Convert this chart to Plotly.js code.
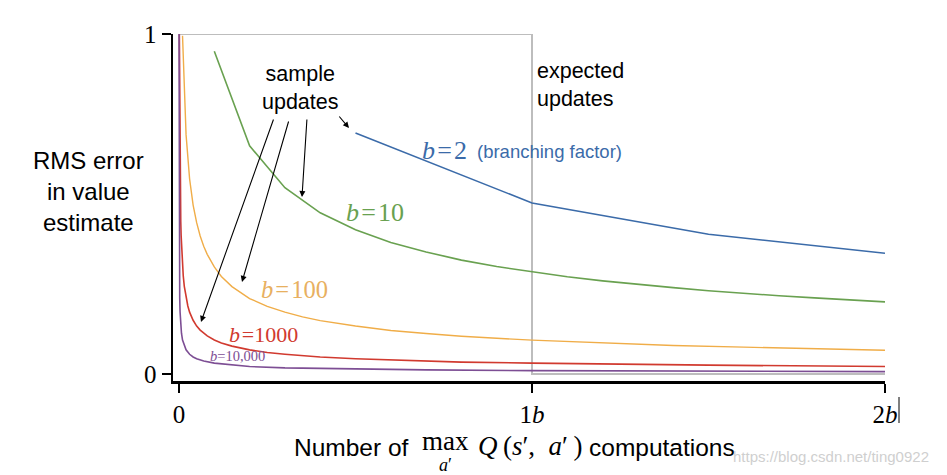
<!DOCTYPE html>
<html>
<head>
<meta charset="utf-8">
<script src="https://cdn.plot.ly/plotly-3.0.1.min.js"></script>
<style>html,body{margin:0;padding:0;background:#fff;}#chart{width:947px;height:475px;}</style>
</head>
<body>
<div id="chart"></div>
<script>
// ---- data (x in multiples of b, y = RMS error) ----
const expectedX = [0, 1, 1, 2];
const expectedErr = [1, 1, 0, 0];

const b2X = [0.5, 1.0, 1.5, 2.0];
const b2Err = [0.709, 0.503, 0.411, 0.355];

const b10X = [0.1, 0.2, 0.3, 0.4, 0.5, 0.6, 0.7, 0.8, 0.9, 1.0, 1.1, 1.2, 1.3, 1.4, 1.5, 1.6, 1.7, 1.8, 1.9, 2.0];
const b10Err = [0.949, 0.671, 0.548, 0.474, 0.424, 0.387, 0.359, 0.335, 0.316, 0.300, 0.286, 0.274, 0.263, 0.254, 0.245, 0.237, 0.230, 0.224, 0.218, 0.212];

const b100X = [0.01, 0.02, 0.03, 0.04, 0.05, 0.06, 0.07, 0.08, 0.10, 0.12, 0.15, 0.18, 0.20, 0.25, 0.30, 0.35, 0.40, 0.50, 0.60, 0.70, 0.80, 1.00, 1.20, 1.40, 1.60, 1.80, 2.00];
const b100Err = [0.995, 0.704, 0.574, 0.497, 0.445, 0.406, 0.376, 0.352, 0.315, 0.287, 0.257, 0.235, 0.222, 0.199, 0.182, 0.168, 0.157, 0.141, 0.128, 0.119, 0.111, 0.0995, 0.091, 0.084, 0.079, 0.074, 0.070];

const b1000X = [0.001, 0.002, 0.003, 0.004, 0.005, 0.006, 0.008, 0.010, 0.012, 0.015, 0.02, 0.025, 0.03, 0.04, 0.05, 0.06, 0.08, 0.1, 0.12, 0.15, 0.2, 0.25, 0.3, 0.4, 0.5, 0.6, 0.8, 1.0, 1.2, 1.5, 2.0];
const b1000Err = [0.9995, 0.707, 0.577, 0.500, 0.447, 0.408, 0.353, 0.316, 0.289, 0.258, 0.223, 0.200, 0.182, 0.158, 0.141, 0.129, 0.112, 0.100, 0.091, 0.082, 0.071, 0.063, 0.058, 0.050, 0.045, 0.041, 0.035, 0.032, 0.029, 0.026, 0.022];

const b10000X = [0.0001, 0.0002, 0.0003, 0.0005, 0.0008, 0.001, 0.0015, 0.002, 0.003, 0.004, 0.005, 0.007, 0.01, 0.015, 0.02, 0.03, 0.04, 0.05, 0.07, 0.1, 0.15, 0.2, 0.3, 0.4, 0.5, 0.7, 1.0, 1.5, 2.0];
const b10000Err = [1.000, 0.707, 0.577, 0.447, 0.354, 0.316, 0.258, 0.224, 0.183, 0.158, 0.141, 0.120, 0.100, 0.082, 0.071, 0.058, 0.050, 0.045, 0.038, 0.032, 0.026, 0.022, 0.018, 0.016, 0.014, 0.012, 0.010, 0.008, 0.007];

const xTickVals = [0, 1, 2];
const xTickText = ['0', '1<i>b</i>', '2<i>b</i>'];
const yTickVals = [0, 1];
const yTickText = ['0', '1'];

// ---- layout helpers (pixel -> paper) ----
const W = 947, H = 475, ML = 173, MR = 62, MT = 34, MB = 94;
const PW = W - ML - MR, PH = H - MT - MB;
const px = x => (x - ML) / PW;
const py = y => (H - MB - y) / PH;

const SANS = 'Liberation Sans, Arial, sans-serif';
const SERIF = 'Liberation Serif, Times New Roman, serif';

const C = {blue: '#3b6ba9', green: '#69a150', orange: '#f0ad48', red: '#d13a2f', purple: '#7d4e94', gray: '#bdbdbd'};

function line(x, y, color, w) {
  return {x: x, y: y, type: 'scatter', mode: 'lines', line: {color: color, width: w}, hoverinfo: 'skip', cliponaxis: false};
}

const traces = [
  line(expectedX, expectedErr, C.gray, 2),
  line(b2X, b2Err, C.blue, 1.6),
  line(b10X, b10Err, C.green, 1.6),
  line(b100X, b100Err, C.orange, 1.4),
  line(b1000X, b1000Err, C.red, 1.6),
  line(b10000X, b10000Err, C.purple, 1.6)
];

function txt(x, y, text, font, anchor, align) {
  return {xref: 'paper', yref: 'paper', x: px(x), y: py(y), text: text, showarrow: false,
    xanchor: anchor || 'left', yanchor: 'middle', align: align || 'left', font: font};
}
function arrow(hx, hy, tx, ty) {
  return {xref: 'paper', yref: 'paper', x: px(hx), y: py(hy), ax: tx - hx, ay: ty - hy,
    text: '', showarrow: true, arrowhead: 2, arrowsize: 1.1, arrowwidth: 1.1, arrowcolor: '#000', standoff: 0};
}

const annotations = [
  txt(88, 191, 'RMS error<br>in value<br>estimate', {family: SANS, size: 24, color: '#000'}, 'center', 'center'),
  txt(300, 88, 'sample<br>updates', {family: SANS, size: 21.5, color: '#000'}, 'center', 'center'),
  txt(535, 85, 'expected<br>updates', {family: SANS, size: 21.5, color: '#000'}, 'left', 'left'),
  txt(420, 150, '<i>b</i>\u200A=\u200A2', {family: SERIF, size: 26, color: C.blue}),
  txt(475, 151, '(branching factor)', {family: SANS, size: 18.5, color: C.blue}),
  txt(344, 213, '<i>b</i>\u200A=\u200A10', {family: SERIF, size: 26, color: C.green}),
  txt(259, 289, '<i>b</i>\u200A=\u200A100', {family: SERIF, size: 24.5, color: '#e8b060'}),
  txt(227, 334, '<i>b</i>\u200A=1000', {family: SERIF, size: 22, color: C.red}),
  txt(208, 356, '<i>b</i>=10,000', {family: SERIF, size: 14.5, color: C.purple}),
  // x-axis title pieces
  txt(292, 447, 'Number of', {family: SANS, size: 24.5, color: '#000'}),
  txt(420, 441, 'max', {family: SERIF, size: 27, color: '#000'}),
  txt(445, 465, '<i>a</i>\u2032', {family: SERIF, size: 18, color: '#000'}, 'center', 'center'),
  txt(476, 446, '<i>Q</i>\u2009(<i>s</i>\u2032,\u2002<i>a</i>\u2032\u2009)', {family: SERIF, size: 27, color: '#000'}),
  txt(587, 447, 'computations', {family: SANS, size: 24.5, color: '#000'}),
  // watermark
  txt(931, 456, 'https://blog.csdn.net/ting0922', {family: SANS, size: 15, color: '#cfcfcf'}, 'right', 'right'),
  // arrows
  arrow(201, 322, 274, 118),
  arrow(242, 282, 289, 120),
  arrow(302, 197, 307, 118),
  arrow(349, 128, 338, 115)
];

const layout = {
  width: W, height: H,
  margin: {l: ML, r: MR, t: MT, b: MB, pad: 0},
  paper_bgcolor: '#fff', plot_bgcolor: '#fff',
  showlegend: false,
  xaxis: {
    range: [-0.017, 2], showgrid: false, zeroline: false,
    showline: true, linecolor: '#000', linewidth: 2.5,
    ticks: 'outside', ticklen: 9, tickwidth: 2.5, tickcolor: '#000',
    tickvals: xTickVals, ticktext: xTickText,
    tickfont: {family: SERIF, size: 25, color: '#000'}
  },
  yaxis: {
    range: [-0.0206, 1], showgrid: false, zeroline: false,
    showline: true, linecolor: '#000', linewidth: 2.5,
    ticks: 'outside', ticklen: 9, tickwidth: 2.5, tickcolor: '#000',
    tickvals: yTickVals, ticktext: yTickText,
    tickfont: {family: SERIF, size: 25, color: '#000'}
  },
  annotations: annotations,
  shapes: [
    {type: 'line', xref: 'paper', yref: 'paper', x0: px(899), x1: px(899), y0: py(397), y1: py(423), line: {color: '#000', width: 1}}
  ]
};

Plotly.newPlot('chart', traces, layout, {staticPlot: true, displayModeBar: false});
</script>
</body>
</html>
